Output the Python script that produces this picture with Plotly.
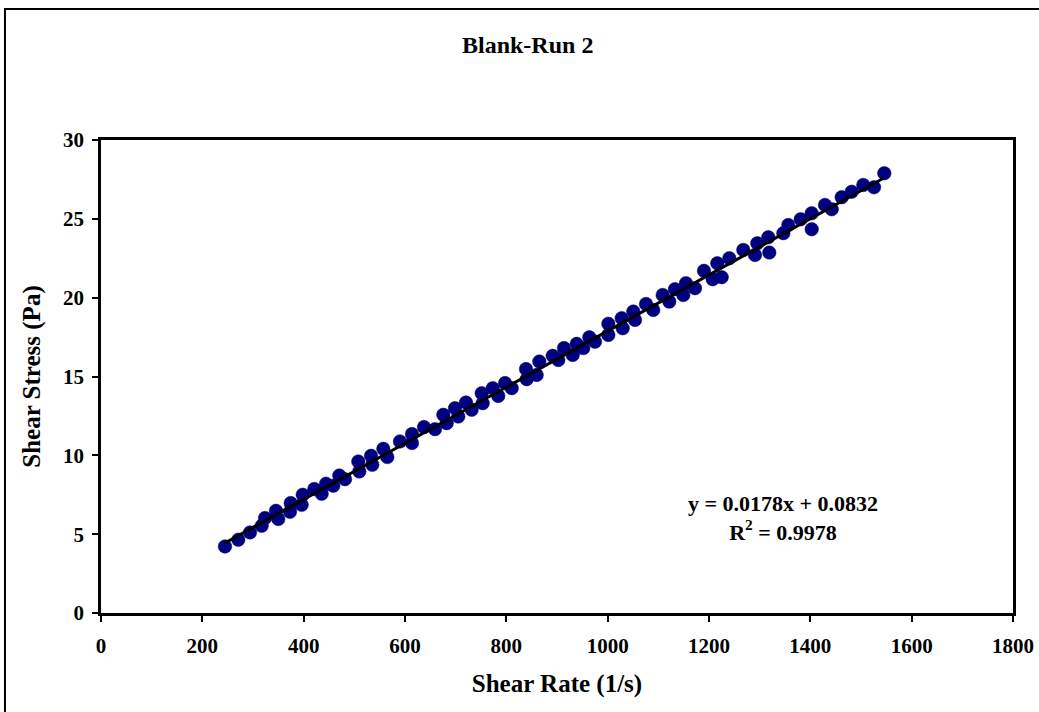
import plotly.graph_objects as go

shear_rate = [244.7, 271.0, 294.1, 317.2, 323.7, 345.4, 349.9, 374.4, 373.0, 398.1,
              396.1, 421.0, 435.6, 444.1, 458.5, 470.3, 481.6, 507.8, 509.8, 532.9,
              535.5, 557.2, 565.1, 590.1, 613.8, 613.8, 637.5, 659.2, 675.6, 682.3,
              698.7, 705.2, 720.4, 731.6, 751.4, 753.3, 773.1, 784.1, 797.4, 810.6,
              838.8, 840.2, 865.1, 859.9, 891.5, 902.6, 913.8, 931.0, 938.9, 951.9,
              963.8, 975.0, 1001.3, 1001.3, 1027.7, 1029.7, 1050.6, 1054.0, 1075.7, 1090.0,
              1108.6, 1121.6, 1132.9, 1149.3, 1154.6, 1172.4, 1190.1, 1207.3, 1216.4, 1225.1,
              1240.1, 1267.7, 1290.8, 1295.3, 1317.0, 1319.0, 1346.7, 1356.5, 1381.0, 1402.7,
              1402.7, 1428.9, 1442.2, 1461.9, 1481.6, 1504.5, 1525.7, 1546.0]
shear_stress = [4.22, 4.65, 5.11, 5.53, 6.02, 6.48, 5.96, 6.97, 6.42, 7.50,
                6.86, 7.86, 7.56, 8.20, 8.07, 8.72, 8.49, 9.61, 8.98, 9.97,
                9.40, 10.41, 9.89, 10.88, 11.35, 10.78, 11.79, 11.66, 12.57, 12.04,
                12.99, 12.46, 13.35, 12.89, 13.94, 13.31, 14.26, 13.77, 14.58, 14.26,
                15.47, 14.83, 15.95, 15.10, 16.31, 16.05, 16.80, 16.37, 17.07, 16.80,
                17.49, 17.21, 18.34, 17.64, 18.70, 18.06, 19.12, 18.59, 19.60, 19.22,
                20.17, 19.75, 20.54, 20.17, 20.92, 20.60, 21.70, 21.17, 22.18, 21.30,
                22.50, 23.03, 22.71, 23.45, 23.83, 22.86, 24.09, 24.61, 24.97, 25.35,
                24.34, 25.88, 25.61, 26.37, 26.72, 27.15, 27.00, 27.89]

slope = 0.0178
intercept = 0.0832
r_squared = 0.9978

x_ticks = [0, 200, 400, 600, 800, 1000, 1200, 1400, 1600, 1800]
y_ticks = [0, 5, 10, 15, 20, 25, 30]

FONT = "Liberation Serif"

x_min, x_max = min(shear_rate), max(shear_rate)
trend_x = [x_min, x_max]
trend_y = [slope * v + intercept for v in trend_x]

fig = go.Figure()
fig.add_trace(go.Scatter(
    x=shear_rate, y=shear_stress, mode="markers",
    marker=dict(size=13.5, color="#000080", line=dict(width=0.5, color="#000060")),
    showlegend=False, hoverinfo="x+y"))
fig.add_trace(go.Scatter(
    x=trend_x, y=trend_y, mode="lines",
    line=dict(color="black", width=3), showlegend=False))

fig.add_annotation(
    x=1347, y=6.0, xref="x", yref="y",
    text=f"<b>y = {slope}x + {intercept}</b><br><b>R<sup>2</sup> = {r_squared}</b>",
    showarrow=False, align="center",
    font=dict(family=FONT, size=22, color="black"))

fig.add_annotation(
    x=0.468, y=1.2008, xref="paper", yref="paper", yanchor="middle", xanchor="center",
    text="<b>Blank-Run 2</b>", showarrow=False,
    font=dict(family=FONT, size=24, color="black"))

fig.add_shape(type="rect", xref="paper", yref="paper",
              x0=-0.1053, x1=1.035, y0=-0.23, y1=1.277,
              line=dict(color="black", width=2))

fig.update_layout(
    width=1039, height=712,
    margin=dict(l=101, r=26, t=140, b=99, autoexpand=False),
    paper_bgcolor="white", plot_bgcolor="white",
    font=dict(family=FONT, color="black", size=21),
    xaxis=dict(range=[0, 1800], tickvals=x_ticks, ticktext=[f"<b>{v}</b>" for v in x_ticks],
               showgrid=False, zeroline=False, showline=True, mirror=True,
               linecolor="black", linewidth=2.5, ticks="outside", ticklen=6,
               tickcolor="black", tickwidth=1.5, ticklabelstandoff=6,
               tickfont=dict(size=21), automargin=False,
               title=dict(text="<b>Shear Rate (1/s)</b>", font=dict(size=25), standoff=18)),
    yaxis=dict(range=[0, 30], tickvals=y_ticks, ticktext=[f"<b>{v}</b>" for v in y_ticks],
               showgrid=False, zeroline=False, showline=True, mirror=True,
               linecolor="black", linewidth=2.5, ticks="outside", ticklen=6,
               tickcolor="black", tickwidth=1.5, ticklabelstandoff=4,
               tickfont=dict(size=21), automargin=False,
               title=dict(text="<b>Shear Stress (Pa)</b>", font=dict(size=25), standoff=16)),
)

fig.write_html("out.html")
